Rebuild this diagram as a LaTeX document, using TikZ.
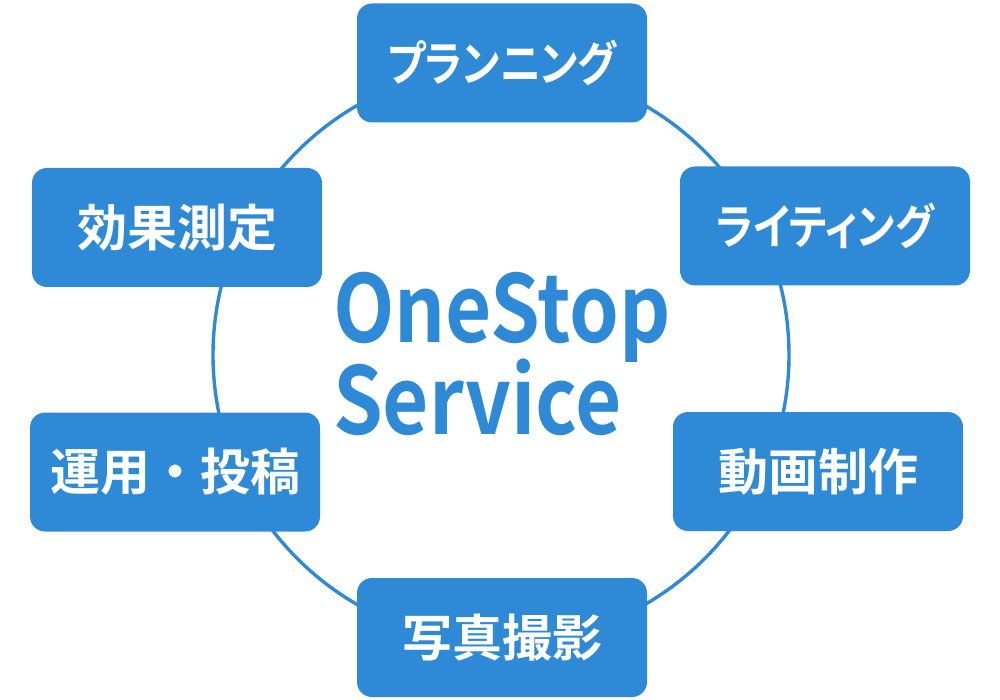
\documentclass[tikz,border=0pt]{standalone}
\usepackage{fontspec}
\newfontfamily\jpfont{Noto Sans CJK JP}[BoldFont={* Bold}]
\newfontfamily\jpfontp{Noto Sans CJK JP}[BoldFont={* Bold},RawFeature=+palt]
\definecolor{mainblue}{RGB}{46,138,214}
\newcommand{\kata}[1]{\scalebox{0.855}[1]{#1}}
\newcommand{\tallword}[1]{\scalebox{1.01}[1.18]{#1}}
\begin{document}
\begin{tikzpicture}[x=1pt,y=-1pt,
  itembox/.style={fill=mainblue, rounded corners=15pt, minimum width=290pt, minimum height=119pt, inner sep=0pt,
    text=white, font=\jpfont\bfseries\fontsize{50pt}{60pt}\selectfont},
  katabox/.style={itembox, font=\jpfontp\bfseries\fontsize{48pt}{60pt}\selectfont},
  ring/.style={draw=mainblue, line width=3.4pt},
  bigword/.style={text=mainblue, font=\jpfont\bfseries\fontsize{79pt}{92pt}\selectfont, anchor=base west, inner sep=0pt}
]
\useasboundingbox (0,0) rectangle (1000,700);
\coordinate (c) at (501,355);
\draw[ring] (c) circle[radius=288pt];
\node[katabox] (plan) at (502,63) {\kata{プランニング}};
\node[katabox] (write) at (825,226) {\kata{ライティング}};
\node[itembox] (video) at (818,471.5) {動画制作};
\node[itembox] (photo) at (502,637.5) {写真撮影};
\node[itembox] (ops) at (175,472) {運用・投稿};
\node[itembox] (meas) at (177,227.5) {効果測定};
\node[bigword] (one) at (333,342) {\tallword{OneStop}};
\node[bigword] (serv) at (333,434) {\tallword{Service}};
\end{tikzpicture}
\end{document}
